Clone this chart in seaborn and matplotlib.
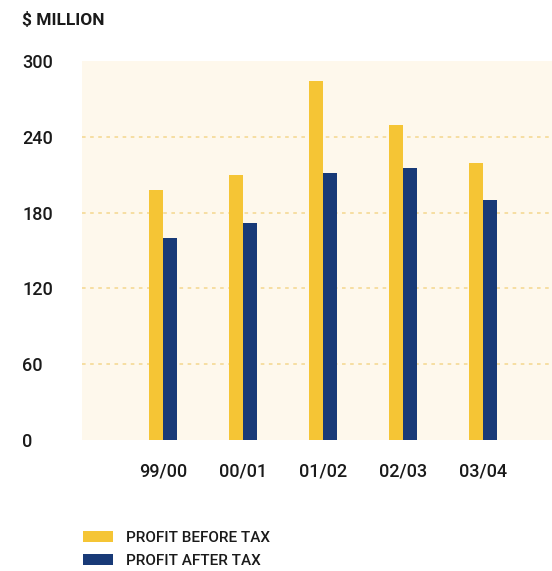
import matplotlib
matplotlib.use("Agg")
import matplotlib.pyplot as plt
import pandas as pd
import seaborn as sns
from matplotlib.patches import Patch

# Financial years and profit figures ($ million)
years = ["99/00", "00/01", "01/02", "02/03", "03/04"]
profit_before_tax = [198, 210, 284, 249, 219]
profit_after_tax = [160, 172, 211, 215, 190]
series_names = ["PROFIT BEFORE TAX", "PROFIT AFTER TAX"]
y_ticks = [0, 60, 120, 180, 240, 300]

colors = ["#F5C535", "#183A77"]
panel_bg = "#FEF8EC"
grid_color = "#F6DC9C"
text_color = "#1A1A1A"

df = pd.DataFrame({
    "year": years * 2,
    "series": [series_names[0]] * len(years) + [series_names[1]] * len(years),
    "value": profit_before_tax + profit_after_tax,
})

sns.set_theme(style="white")
plt.rcParams["font.family"] = ["Roboto", "DejaVu Sans"]
plt.rcParams["font.weight"] = "medium"

W, H = 552, 571
fig = plt.figure(figsize=(W / 100, H / 100), dpi=100)
fig.patch.set_facecolor("white")
ax = fig.add_axes([82 / W, (H - 440) / H, 470 / W, 379 / H])
ax.set_facecolor(panel_bg)

sns.barplot(data=df, x="year", y="value", hue="series", order=years,
            hue_order=series_names, palette=colors, width=0.35, gap=0,
            saturation=1, dodge=True, ax=ax, legend=False, errorbar=None,
            linewidth=0, edgecolor="none")

ax.set_xlim(-1.0125, 4.86)
ax.set_ylim(0, 300)
for v in y_ticks[1:-1]:
    ax.axhline(v, color=grid_color, linestyle=(0, (2, 2.5)), linewidth=1.3, zorder=0)

for s in ax.spines.values():
    s.set_visible(False)

ax.set_yticks(y_ticks)
ax.set_yticklabels([str(v) for v in y_ticks], fontsize=13, color=text_color,
                   fontweight="medium")
for lbl in ax.get_yticklabels():
    lbl.set_horizontalalignment("left")
ax.tick_params(axis="y", length=0, pad=43)
ax.tick_params(axis="x", length=0, pad=16, labelsize=13, labelcolor=text_color)
for lbl in ax.get_xticklabels():
    lbl.set_fontweight("medium")
ax.set_xlabel("")
ax.set_ylabel("")

fig.text(22 / W, 1 - 20 / H, "$ MILLION", fontsize=12.5, fontweight="bold",
         color=text_color, va="center", ha="left")

handles = [Patch(facecolor=c, edgecolor="none") for c in colors]
leg = fig.legend(handles, series_names, loc="upper left",
                 bbox_to_anchor=(83 / W, 1 - 531 / H), frameon=False,
                 handlelength=1.95, handleheight=0.7,
                 handletextpad=0.85, labelspacing=0.6, borderpad=0,
                 borderaxespad=0, labelcolor=text_color,
                 prop={"weight": "medium", "size": 11})

fig.savefig("out.png", dpi=100, facecolor="white")
